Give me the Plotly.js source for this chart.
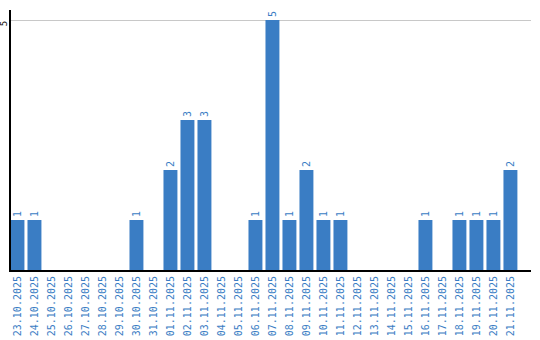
<!DOCTYPE html>
<html><head><meta charset="utf-8">
<script src="https://cdn.plot.ly/plotly-3.0.1.min.js"></script>
<style>html,body{margin:0;padding:0;background:#fff}#c{width:540px;height:340px}</style>
</head><body><div id="c"></div>
<script>
const dates = ["23.10.2025","24.10.2025","25.10.2025","26.10.2025","27.10.2025","28.10.2025","29.10.2025","30.10.2025","31.10.2025","01.11.2025","02.11.2025","03.11.2025","04.11.2025","05.11.2025","06.11.2025","07.11.2025","08.11.2025","09.11.2025","10.11.2025","11.11.2025","12.11.2025","13.11.2025","14.11.2025","15.11.2025","16.11.2025","17.11.2025","18.11.2025","19.11.2025","20.11.2025","21.11.2025"];
const counts = [1,1,0,0,0,0,0,1,0,2,3,3,0,0,1,5,1,2,1,1,0,0,0,0,1,0,1,1,1,2];
const labels = counts.map(v => v > 0 ? String(v) : "");
const blue = "#3a7dc4";
Plotly.newPlot("c", [{
  type: "bar", x: dates, y: counts, text: labels,
  textposition: "outside", textangle: -90, cliponaxis: false,
  textfont: {family: "DejaVu Sans Mono", size: 10, color: blue},
  marker: {color: blue}, hoverinfo: "none"
}], {
  width: 540, height: 340,
  margin: {l: 11, r: 9, t: 10, b: 70},
  paper_bgcolor: "#fff", plot_bgcolor: "#fff",
  bargap: 0.18, showlegend: false,
  font: {family: "DejaVu Sans Mono", size: 10},
  xaxis: {type: "category", range: [-0.38, 30.21], tickangle: -90,
    tickfont: {color: blue, size: 10, family: "DejaVu Sans Mono"},
    showline: true, linecolor: "#000", linewidth: 2, showgrid: false, ticks: "", ticklen: 0},
  yaxis: {range: [0, 5.2], tickvals: [5], ticktext: ["5"], tickangle: -90,
    tickfont: {color: "#000", size: 9, family: "DejaVu Sans Mono"}, ticklabelstandoff: -2, ticklabelshift: 5,
    showline: true, linecolor: "#000", linewidth: 2, gridcolor: "#c8c8c8", gridwidth: 1,
    zeroline: false, ticks: "", automargin: false}
}, {staticPlot: true});
</script></body></html>
